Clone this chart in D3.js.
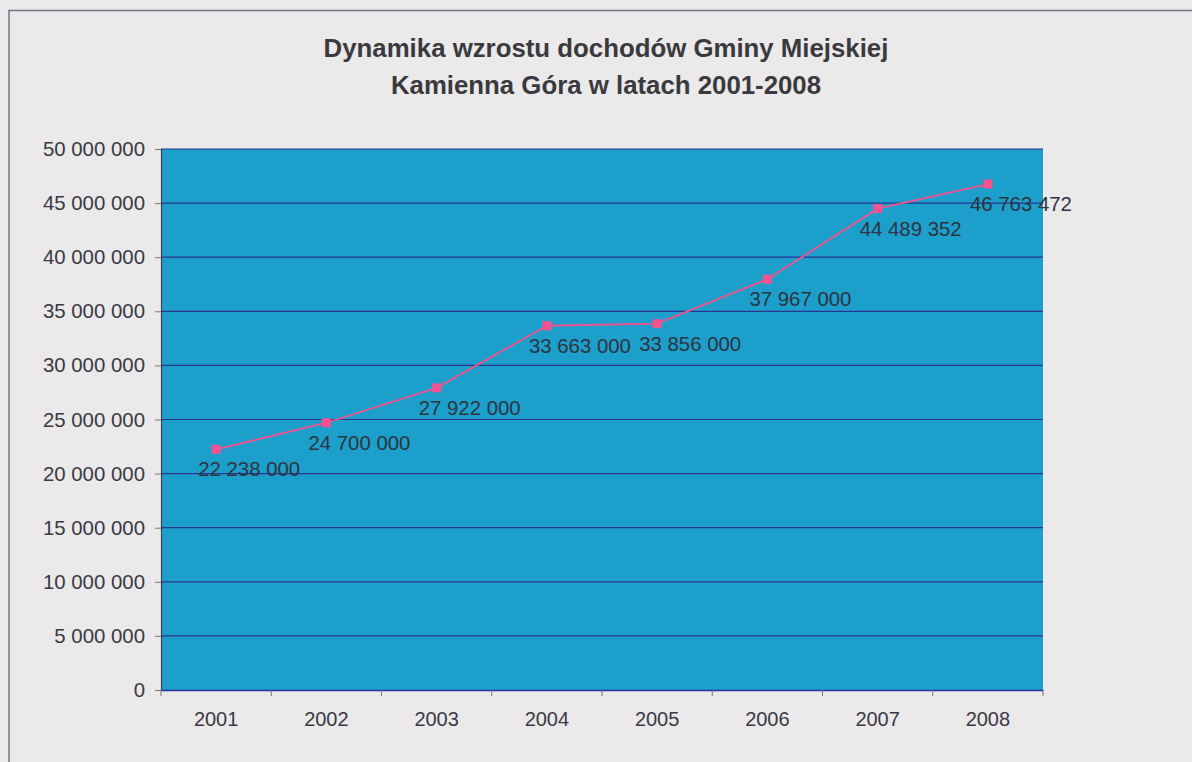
<!DOCTYPE html>
<html>
<head>
<meta charset="utf-8">
<script src="https://cdn.jsdelivr.net/npm/d3@7"></script>
<style>
  body { margin: 0; background: #ebe9ea; }
  svg { display: block; font-family: "Liberation Sans", Arial, sans-serif; }
</style>
</head>
<body>
<div id="chart"></div>
<script>
// chart data
const years = ["2001", "2002", "2003", "2004", "2005", "2006", "2007", "2008"];
const income = [22238000, 24700000, 27922000, 33663000, 33856000, 37967000, 44489352, 46763472];
const yTicks = [0, 5000000, 10000000, 15000000, 20000000, 25000000, 30000000, 35000000, 40000000, 45000000, 50000000];
const titleLines = ["Dynamika wzrostu dochodów Gminy Miejskiej", "Kamienna Góra w latach 2001-2008"];

const W = 1192, H = 762;
const margin = {top: 149, right: 149, bottom: 72, left: 161};
const width = W - margin.left - margin.right;
const height = H - margin.top - margin.bottom;
const FONT = "'Liberation Sans', Arial, sans-serif";

// "50 000 000" style numbers
const fmt = v => d3.format(",")(v).replace(/,/g, " ");

const svg = d3.select("#chart").append("svg")
    .attr("width", W)
    .attr("height", H);

// paper frame
svg.append("path")
    .attr("d", `M9,${H} L9,10.5 L${W},10.5`)
    .attr("fill", "none")
    .attr("stroke", "#7a7388")
    .attr("stroke-width", 1.5);

// title
svg.append("g").selectAll("text")
    .data(titleLines)
    .join("text")
    .attr("x", 606)
    .attr("y", (d, i) => 57 + i * 37)
    .attr("text-anchor", "middle")
    .attr("font-family", FONT)
    .attr("font-size", 25.8)
    .attr("font-weight", "bold")
    .attr("fill", "#3a3a3e")
    .text(d => d);

const g = svg.append("g")
    .attr("transform", `translate(${margin.left},${margin.top})`);

const x = d3.scaleBand()
    .domain(years)
    .range([0, width]);

const y = d3.scaleLinear()
    .domain([0, 50000000])
    .range([height, 0]);

// plot area
g.append("rect")
    .attr("width", width)
    .attr("height", height)
    .attr("fill", "#1d9fcb");

// grid lines
g.append("g").selectAll("line")
    .data(yTicks.filter(t => t > 0))
    .join("line")
    .attr("x1", 0)
    .attr("x2", width)
    .attr("y1", d => y(d))
    .attr("y2", d => y(d))
    .attr("stroke", "#2b3590")
    .attr("stroke-width", 1.2);

// y axis
const yAxis = g.append("g")
    .call(d3.axisLeft(y).tickValues(yTicks).tickFormat(fmt).tickSize(6).tickPadding(10));
yAxis.select(".domain").attr("stroke", "#3d4350").attr("stroke-width", 1.2);
yAxis.selectAll(".tick line").attr("stroke", "#777");
yAxis.selectAll(".tick text")
    .attr("font-size", 20.4)
    .attr("font-family", FONT)
    .attr("fill", "#3a3a44");

// x axis
const xAxis = g.append("g")
    .attr("transform", `translate(0,${height})`)
    .call(d3.axisBottom(x).tickSize(0).tickPadding(22));
xAxis.select(".domain").attr("stroke", "#2b2fa0").attr("stroke-width", 1.5);
xAxis.selectAll(".tick text")
    .attr("font-size", 20)
    .attr("font-family", FONT)
    .attr("fill", "#3a3a44");

// x ticks at band boundaries
g.append("g").selectAll("line")
    .data(years.concat(["end"]))
    .join("line")
    .attr("x1", (d, i) => i * x.step())
    .attr("x2", (d, i) => i * x.step())
    .attr("y1", height)
    .attr("y2", height + 6)
    .attr("stroke", "#777");

const cx = d => x(d) + x.bandwidth() / 2;

// the line
g.append("path")
    .datum(years.map((d, i) => [cx(d), y(income[i])]))
    .attr("d", d3.line())
    .attr("fill", "none")
    .attr("stroke", "#f2528e")
    .attr("stroke-width", 1.8);

// markers
g.append("g").selectAll("rect")
    .data(years)
    .join("rect")
    .attr("x", d => cx(d) - 4.5)
    .attr("y", (d, i) => y(income[i]) - 4.5)
    .attr("width", 9)
    .attr("height", 9)
    .attr("fill", "#f4538f");

// data labels
g.append("g").selectAll("text")
    .data(years)
    .join("text")
    .attr("x", d => cx(d) - 18)
    .attr("y", (d, i) => y(income[i]) + 27)
    .attr("font-family", FONT)
    .attr("font-size", 20.4)
    .attr("fill", "#2e3440")
    .text((d, i) => fmt(income[i]));
</script>
</body>
</html>
